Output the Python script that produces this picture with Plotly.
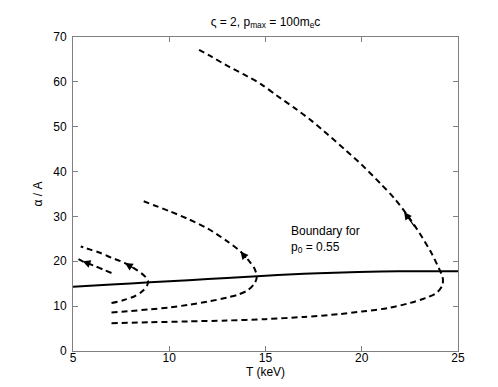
import plotly.graph_objects as go

# solid boundary curve (p0 = 0.55)
boundary_T = [5, 7, 9, 11, 13, 15, 17, 19, 21, 23, 25]
boundary_a = [14.3, 14.8, 15.3, 15.8, 16.3, 16.8, 17.2, 17.5, 17.7, 17.8, 17.8]

# dashed trajectories
trajA_T = [7.0, 9, 11, 13, 15, 17, 18.8, 20, 21.4, 22.5, 23.3, 23.9, 24.2, 24.2, 24.0,
           23.6, 23.0, 22.4, 21.7, 21.0, 20.0, 19.1, 18.25, 17.4, 16.5, 15.6, 14.8,
           13.9, 13.05, 12.2, 11.4]
trajA_a = [6.2, 6.4, 6.6, 6.8, 7.1, 7.6, 8.2, 8.8, 9.6, 10.7, 11.8, 13.0, 14.8, 16.5, 18.5,
           22.0, 26.3, 30.1, 34.0, 37.2, 41.5, 45.0, 48.2, 51.3, 54.2, 56.9, 59.4,
           61.6, 63.5, 65.6, 67.5]

trajB_T = [7.0, 8, 9, 10, 11, 12, 13, 13.6, 14.1, 14.45, 14.55, 14.4, 14.1, 13.7, 13.0,
           12.0, 11.0, 10.0, 9.2, 8.6]
trajB_a = [8.6, 8.9, 9.3, 9.7, 10.3, 11.0, 11.9, 12.6, 13.6, 15.2, 16.7, 18.6, 20.3, 22.2,
           24.5, 27.3, 29.4, 31.2, 32.5, 33.5]

trajC_T = [7.0, 7.6, 8.2, 8.6, 8.85, 8.9, 8.75, 8.3, 7.7, 7.0, 6.4, 5.9, 5.4]
trajC_a = [10.7, 11.3, 12.2, 13.3, 14.6, 15.5, 16.6, 18.1, 19.6, 20.8, 21.9, 22.6, 23.3]

trajD_T = [7.0, 6.6, 6.1, 5.5, 5.2]
trajD_a = [17.4, 18.1, 19.0, 20.0, 20.7]

# arrow heads and the points they come from
arrow_head_T = [22.2, 13.7, 7.7, 5.5]
arrow_head_a = [31.0, 22.2, 19.6, 20.0]
arrow_tail_T = [22.8, 14.05, 8.2, 6.0]
arrow_tail_a = [27.4, 20.4, 18.3, 19.2]

fig = go.Figure()

for T, a in [(trajA_T, trajA_a), (trajB_T, trajB_a), (trajC_T, trajC_a), (trajD_T, trajD_a)]:
    fig.add_trace(go.Scatter(x=T, y=a, mode="lines", line_shape="spline",
                             line=dict(color="black", width=2, dash="6px,4px", smoothing=0.8),
                             showlegend=False))

fig.add_trace(go.Scatter(x=boundary_T, y=boundary_a, mode="lines", line_shape="spline",
                         line=dict(color="black", width=2), showlegend=False))

for hx, hy, tx, ty in zip(arrow_head_T, arrow_head_a, arrow_tail_T, arrow_tail_a):
    fig.add_annotation(x=hx, y=hy, ax=tx, ay=ty, xref="x", yref="y", axref="x", ayref="y",
                       text="", showarrow=True, arrowhead=2, arrowsize=1.3,
                       arrowwidth=1.2, arrowcolor="black")

fig.add_annotation(x=16.2, y=24.8, xref="x", yref="y", xanchor="left", yanchor="middle",
                   text="Boundary for<br>p<sub>0</sub> = 0.55", showarrow=False, align="left",
                   font=dict(size=12, color="black"))

axis_style = dict(showline=True, linecolor="#808080", linewidth=1, mirror="ticks",
                  ticks="inside", ticklen=5, tickcolor="#808080", showgrid=False,
                  zeroline=False, tickfont=dict(size=12, color="black"))

fig.update_xaxes(range=[5, 25], tickvals=[5, 10, 15, 20, 25], ticklabelstandoff=-4,
                 title=dict(text="T (keV)", font=dict(size=12, color="black"), standoff=0),
                 **axis_style)
fig.update_yaxes(range=[0, 70], tickvals=[0, 10, 20, 30, 40, 50, 60, 70],
                 ticklabelstandoff=3,
                 title=dict(text="α / A", font=dict(size=12, color="black"), standoff=8),
                 **axis_style)

fig.update_layout(
    width=498, height=387,
    margin=dict(l=65, r=48, t=29, b=44),
    paper_bgcolor="white", plot_bgcolor="white",
    font=dict(family="Liberation Sans, Arial, sans-serif", size=12, color="black"),
    title=dict(text="ς = 2, p<sub>max</sub> = 100m<sub>e</sub>c", x=0.5, xref="paper",
               y=0.965, yanchor="middle", font=dict(size=12, color="black")),
)

fig.write_html("out.html")
